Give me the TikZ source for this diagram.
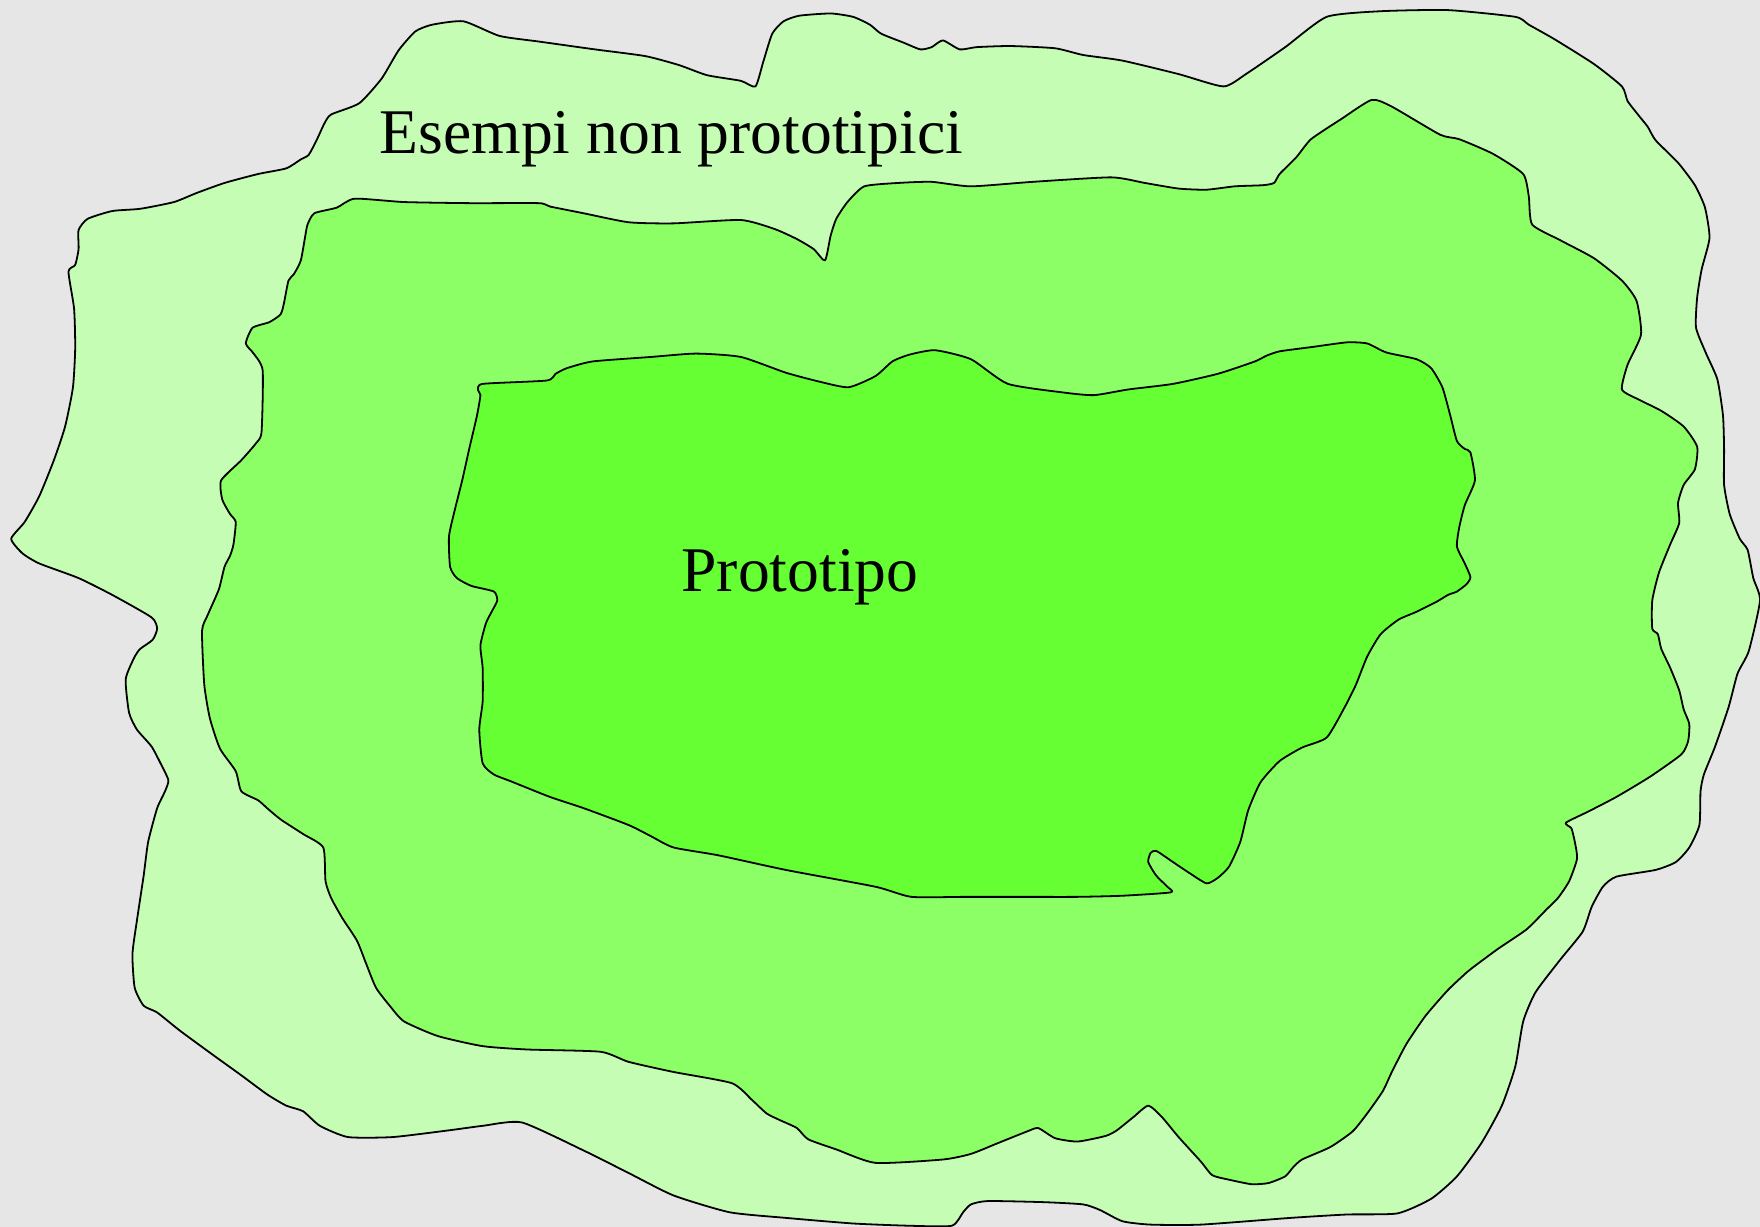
\documentclass[tikz,border=0pt]{standalone}
\usepackage{fontspec}
\setmainfont{Liberation Serif}
\definecolor{bggray}{RGB}{230,230,230}
\definecolor{outergreen}{RGB}{198,253,180}
\definecolor{midgreen}{RGB}{140,255,102}
\definecolor{innergreen}{RGB}{102,255,51}
\tikzset{
  blob/.style={draw=black, line width=1.6pt, line join=round},
  outerblob/.style={blob, fill=outergreen},
  midblob/.style={blob, fill=midgreen},
  innerblob/.style={blob, fill=innergreen},
  label/.style={font=\fontsize{56.7}{68}\selectfont, inner sep=0pt, anchor=base west}
}
\begin{document}
\begin{tikzpicture}[x=1pt,y=-1pt]
\useasboundingbox (0,0) rectangle (1568,1093);
\fill[bggray] (0,0) rectangle (1568,1093);
% outer region
\draw[outerblob] plot[smooth cycle, tension=0.35] coordinates {
(295,102) (320,92) (340,70) (355,45) (370,28) (385,22) (413,19) (445,32) (480,37) (530,44) (575,50) (605,58) (630,67) (660,72) (673,77)
(680,55) (688,30) (698,19) (712,14) (740,12) (760,15) (775,22) (785,30) (805,38) (820,44) (830,42) (840,36) (855,44) (870,42) (900,41) (940,43) (965,49) (1000,54) (1050,66) (1090,77)
(1110,66) (1145,42) (1182,15) (1230,10) (1290,9) (1350,15) (1362,22) (1385,35) (1420,57) (1445,77) (1450,90) (1460,103) (1468,113) (1475,125) (1495,145) (1510,165) (1519,185) (1523,212)
(1516,240) (1512,265) (1511,292) (1520,315) (1530,338) (1535,370) (1536,400) (1536,432) (1541,458) (1550,480) (1557,490) (1562,515) (1568,535)
(1558,580) (1548,600) (1540,630) (1528,665) (1518,690) (1515,705) (1514,735) (1505,755) (1493,768) (1475,775) (1440,781) (1428,790) (1418,808) (1410,830) (1390,855) (1368,884) (1357,910) (1350,950) (1338,985) (1320,1018) (1298,1048) (1275,1068) (1245,1081)
(1200,1082) (1150,1085) (1070,1091) (1025,1091) (1000,1088) (980,1078) (965,1073) (930,1071) (880,1070) (865,1073) (858,1080) (848,1092)
(810,1092) (760,1090) (700,1085) (650,1080) (600,1065) (560,1045) (520,1025) (465,1000)
(430,1003) (400,1007) (350,1013) (310,1013) (285,1003) (270,990) (255,985) (238,975) (215,958) (190,940) (160,918) (140,902) (128,896) (120,880) (118,850) (122,820) (128,780) (132,750) (140,720) (147,705) (150,695) (143,680) (135,665) (122,650) (115,635) (112,605) (120,585) (125,578) (136,570) (140,560) (135,550) (100,530) (70,515) (35,502) (20,493) (10,480)
(22,465) (35,442) (48,410) (58,380) (65,345) (67,310) (66,275) (61,242) (67,236) (70,222) (70,205) (78,195) (100,188) (125,186) (155,180) (175,172) (200,163) (230,155) (255,150) (268,142) (275,138) (282,125) (289,110)
};
% middle region
\draw[midblob] plot[smooth cycle, tension=0.35] coordinates {
(280,190) (300,185) (316,177) (360,180) (420,181) (480,181) (490,184) (520,190) (560,198) (600,199) (660,196) (690,204) (710,213) (725,222) (735,232)
(740,210) (745,195) (755,180) (770,166) (800,163) (830,162) (865,166) (920,162) (990,158) (1020,163) (1050,168) (1075,169) (1100,166) (1125,165) (1135,163) (1140,155) (1155,140) (1168,124) (1195,106) (1222,89) (1240,95) (1283,120) (1300,124) (1330,137) (1357,155) (1362,175) (1365,200) (1390,214) (1420,230) (1445,250) (1458,268) (1462,298) (1450,325) (1445,347) (1460,356) (1480,366) (1500,380) (1512,398) (1510,418) (1500,432) (1495,448) (1496,466) (1488,485) (1478,510) (1472,535) (1472,560) (1477,565) (1480,578) (1488,595) (1496,615) (1500,632) (1505,645) (1504,660) (1498,672) (1470,692) (1440,710) (1415,723) (1395,733)
(1400,738) (1403,750) (1405,765) (1398,785) (1388,800) (1378,810) (1360,828) (1335,845) (1312,862) (1307,866) (1290,882) (1270,905) (1253,930) (1240,955) (1232,972) (1218,992) (1205,1008) (1185,1022) (1160,1033) (1152,1040) (1145,1048) (1130,1054) (1115,1055) (1095,1051) (1080,1047) (1070,1035) (1050,1013) (1035,995) (1023,985)
(1010,995) (995,1007) (985,1012) (960,1017) (940,1014) (925,1005) (915,1008) (890,1018) (865,1028) (840,1033) (780,1036) (745,1024) (720,1015) (710,1005) (695,998) (683,992) (670,980) (652,965) (600,955) (560,946) (535,937) (470,935) (430,932) (390,923) (360,910) (348,897) (335,880) (326,858) (318,838) (305,818) (295,800) (290,785) (288,755)
(270,743) (250,730) (238,720) (230,713) (215,705) (210,687) (196,667) (187,640) (182,610) (180,562) (185,548) (195,525) (200,505) (205,495) (208,485) (210,465) (205,458) (198,445) (197,428) (215,410) (228,395) (233,385) (234,330) (226,315) (219,306) (225,292) (240,287) (250,280) (253,270) (257,250) (262,244) (268,232) (272,210) (274,200)
};
% inner region
\draw[innerblob] plot[smooth cycle, tension=0.35] coordinates {
(430,342) (487,339) (495,333) (505,328) (528,322) (580,318) (620,315) (660,318) (700,332) (730,340) (756,345) (780,335) (795,322) (810,316) (833,312) (865,320) (898,342) (950,350) (975,352) (1005,347) (1045,342) (1085,333) (1118,322) (1128,317) (1140,313) (1170,309) (1200,305) (1218,306) (1235,314) (1262,320) (1275,328) (1285,345) (1292,370) (1298,393) (1305,400) (1310,403) (1314,428) (1305,450) (1300,470) (1298,487) (1305,502) (1310,514) (1307,520) (1298,527) (1290,530) (1280,536) (1262,545) (1246,552) (1230,565) (1218,585) (1208,610) (1198,630) (1182,657)
(1160,666) (1140,678) (1123,697) (1112,722) (1105,750) (1095,772) (1085,782) (1075,787) (1060,778) (1045,768) (1030,758) (1025,760) (1023,768) (1030,780) (1040,790) (1043,795)
(1000,798) (960,799) (910,799) (860,799) (812,799) (780,790) (700,775) (640,762) (600,755) (580,745) (560,735) (520,720) (490,710) (455,696) (440,690) (430,680) (427,650) (430,625) (430,595) (428,575) (433,555) (438,545) (443,535) (440,527) (420,522) (407,515) (401,505) (400,478) (405,455) (412,427) (418,400) (425,370) (428,352) (426,348)
};
\node[label] (esempi) at (338,137) {Esempi non prototipici};
\node[label] (prototipo) at (607,527) {Prototipo};
\end{tikzpicture}
\end{document}
